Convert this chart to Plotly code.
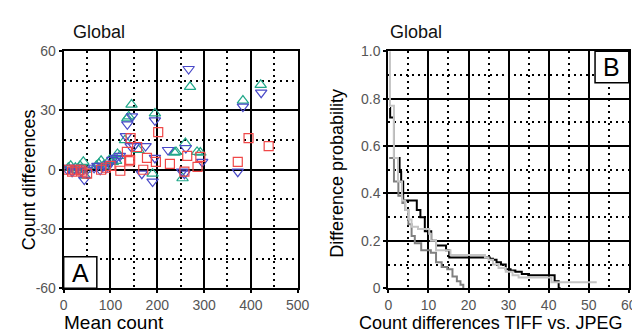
import plotly.graph_objects as go

# ---------------- Panel A data (Mean count vs Count differences) ----------------
green_x = [10, 15, 20, 25, 30, 35, 42, 45, 48, 70, 75, 80, 85, 90, 98, 105, 112, 115, 120,
           131, 136, 139, 145, 160, 190, 195, 237, 240, 254, 260, 270, 285, 292, 383, 421]
green_y = [1, 2, 0, 1, 0, 2, 4, -3, 0, 2, 3, 4.5, 2, 1, 5, 4, 4.5, 8, 7,
           15, 26, 27, 33, 10, -2, 28.5, 8.7, 9, -4.3, 13.5, 42, 9, 8.7, 35, 43]

blue_x = [8, 12, 18, 22, 28, 33, 38, 44, 50, 65, 72, 78, 84, 92, 98, 104, 112, 120,
          133, 136, 143, 146, 150, 167, 175, 190, 195, 195, 223, 253, 258, 261, 267, 296, 372, 383, 422]
blue_y = [0, 1, -1, 0, 1, 0, -1, -5, 0, 1, 2, 0, 2, 1, 3, 5, 6, 7,
          17, 23, 12, 27, 12, -2, 12, -6, 25, 6, 10, -1, -2, 11, 51, 4, -1, 32, 39]

red_x = [10, 18, 25, 36, 40, 50, 80, 90, 100, 121, 135, 140, 142, 143, 157, 170, 178, 197,
         202, 227, 258, 264, 286, 292, 372, 395, 438]
red_y = [0, -1, 0, 0, -1, -2, 0, 1, 2, -0.5, 9, 4.3, 5, 16, 11.5, 0, 6, 4,
         19, 3, -1, 7, 1.5, 6.5, 4, 16, 12]

# ---------------- Panel B data (step curves) ----------------
lgray_x = [0.3, 0.4, 1.4, 2.4, 3.4, 4.2, 5.0, 5.8, 7.4, 10.2, 10.6, 11.9, 15.5, 24.1, 25.0,
           26.1, 27.5, 29.3, 31.0, 32.5, 40.7, 52.0]
lgray_y = [1.0, 0.77, 0.55, 0.45, 0.37, 0.33, 0.29, 0.26, 0.25, 0.23, 0.20, 0.16, 0.14, 0.13, 0.12,
           0.10, 0.085, 0.07, 0.055, 0.045, 0.025, 0.025]

black_x = [0.4, 0.45, 1.4, 2.8, 3.2, 3.7, 7.1, 8.0, 9.1, 10.7, 11.9, 14.4, 15.2, 24.5, 25.3,
           26.1, 27.0, 28.1, 29.3, 30.5, 31.7, 33.3, 34.9, 41.5, 42.5, 43.0]
black_y = [0.76, 0.72, 0.55, 0.49, 0.45, 0.37, 0.33, 0.30, 0.24, 0.20, 0.18, 0.16, 0.13, 0.13, 0.125,
           0.12, 0.11, 0.10, 0.08, 0.075, 0.07, 0.06, 0.055, 0.03, 0.0, 0.0]

dgray_x = [0.2, 1.4, 2.5, 3.5, 4.2, 5.0, 5.8, 6.6, 8.2, 10.6, 11.9, 13.3, 14.7, 16.0, 17.1, 18.0, 18.7]
dgray_y = [0.55, 0.45, 0.39, 0.36, 0.33, 0.27, 0.22, 0.19, 0.16, 0.15, 0.11, 0.09, 0.08, 0.05, 0.03, 0.015, 0.0]

a_yticks = [-60, -30, 0, 30, 60]
a_yticklabels = ["-60", "-30", "0", "30", "60"]
a_xticks = [0, 100, 200, 300, 400, 500]
b_yticks = [0, 0.2, 0.4, 0.6, 0.8, 1.0]
b_yticklabels = ["0", "0.2", "0.4", "0.6", "0.8", "1.0"]
b_xticks = [0, 10, 20, 30, 40, 50, 60]

FONT = "Liberation Sans, Arial, sans-serif"
W, H = 640, 333

fig = go.Figure()

fig.add_trace(go.Scatter(x=green_x, y=green_y, mode="markers", xaxis="x", yaxis="y",
                         marker=dict(symbol="triangle-up-open", size=10, color="#22a88a", line=dict(width=1.2))))
fig.add_trace(go.Scatter(x=blue_x, y=blue_y, mode="markers", xaxis="x", yaxis="y",
                         marker=dict(symbol="triangle-down-open", size=10, color="#4a4ac8", line=dict(width=1.2))))
fig.add_trace(go.Scatter(x=red_x, y=red_y, mode="markers", xaxis="x", yaxis="y",
                         marker=dict(symbol="square-open", size=9, color="#f04848", line=dict(width=1.2))))

fig.add_trace(go.Scatter(x=black_x, y=black_y, mode="lines", xaxis="x2", yaxis="y2",
                         line=dict(shape="hv", color="#000000", width=2)))
fig.add_trace(go.Scatter(x=dgray_x, y=dgray_y, mode="lines", xaxis="x2", yaxis="y2",
                         line=dict(shape="hv", color="#808080", width=2)))
fig.add_trace(go.Scatter(x=lgray_x, y=lgray_y, mode="lines", xaxis="x2", yaxis="y2",
                         line=dict(shape="hv", color="#c4c4c4", width=2)))

def ypix(p):
    return (H - p) / H

def axis_common(**kw):
    d = dict(showline=True, linecolor="black", linewidth=2, mirror=True,
             showgrid=True, gridcolor="black", gridwidth=1.5, zeroline=False,
             ticks="outside", ticklen=3, tickcolor="black", tickwidth=2,
             tickfont=dict(family=FONT, size=14, color="#555555"))
    d.update(kw)
    return d

minor_style = dict(showgrid=True, gridcolor="black", gridwidth=1.5, griddash="2px,4px")

fig.update_layout(
    width=W, height=H, margin=dict(l=0, r=0, t=0, b=0),
    paper_bgcolor="white", plot_bgcolor="white", showlegend=False,
    xaxis=axis_common(domain=[53 / W, 293 / W], range=[0, 500], tickvals=a_xticks,
                      minor=dict(dtick=50, **minor_style), anchor="y"),
    yaxis=axis_common(domain=[ypix(286), ypix(37)], range=[-60, 60], tickvals=a_yticks,
                      ticktext=a_yticklabels,
                      minor=dict(dtick=15, tick0=0, **minor_style), anchor="x"),
    xaxis2=axis_common(domain=[386 / W, 632.6 / W], range=[0, 60], tickvals=b_xticks,
                       minor=dict(dtick=5, **minor_style), anchor="y2"),
    yaxis2=axis_common(domain=[ypix(286), ypix(37)], range=[0, 1], tickvals=b_yticks,
                       ticktext=b_yticklabels, minor=dict(dtick=0.1, **minor_style), anchor="x2"),
)

ann = []
tf = dict(family=FONT, size=18, color="black")
gf = dict(family=FONT, size=18, color="#111")
ann.append(dict(text="Global", x=60 / W, y=ypix(17), xref="paper", yref="paper", showarrow=False,
                xanchor="left", yanchor="middle", font=gf))
ann.append(dict(text="Global", x=386 / W, y=ypix(17), xref="paper", yref="paper", showarrow=False,
                xanchor="left", yanchor="middle", font=gf))
ann.append(dict(text="Count differences", x=17 / W, y=ypix(172), xref="paper", yref="paper",
                showarrow=False, textangle=-90, xanchor="center", yanchor="middle", font=tf))
ann.append(dict(text="Difference probability", x=333 / W, y=ypix(165), xref="paper", yref="paper",
                showarrow=False, textangle=-90, xanchor="center", yanchor="middle", font=tf))
ann.append(dict(text="Mean count", x=51 / W, y=ypix(322), xref="paper", yref="paper",
                showarrow=False, xanchor="left", yanchor="middle", font=dict(family=FONT, size=19, color="black")))
ann.append(dict(text="Count differences TIFF vs. JPEG", x=354 / W, y=ypix(322), xref="paper", yref="paper",
                showarrow=False, xanchor="left", yanchor="middle", font=dict(family=FONT, size=18, color="black")))
ann.append(dict(text="A", x=70 / W, y=ypix(270), xref="paper", yref="paper", showarrow=False,
                xanchor="center", yanchor="middle", font=dict(family=FONT, size=25, color="black")))
ann.append(dict(text="B", x=615 / W, y=ypix(54), xref="paper", yref="paper", showarrow=False,
                xanchor="center", yanchor="middle", font=dict(family=FONT, size=25, color="black")))
fig.update_layout(annotations=ann)

fig.update_layout(shapes=[
    dict(type="rect", xref="x domain", yref="y domain", x0=0, x1=34 / 240, y0=0, y1=33 / 249,
         line=dict(color="black", width=1.5), fillcolor="white", layer="above"),
    dict(type="rect", xref="x2 domain", yref="y2 domain", x0=212 / 246.6, x1=1, y0=1 - 33 / 249, y1=1,
         line=dict(color="black", width=1.5), fillcolor="white", layer="above"),
])

fig.write_html("out.html")
